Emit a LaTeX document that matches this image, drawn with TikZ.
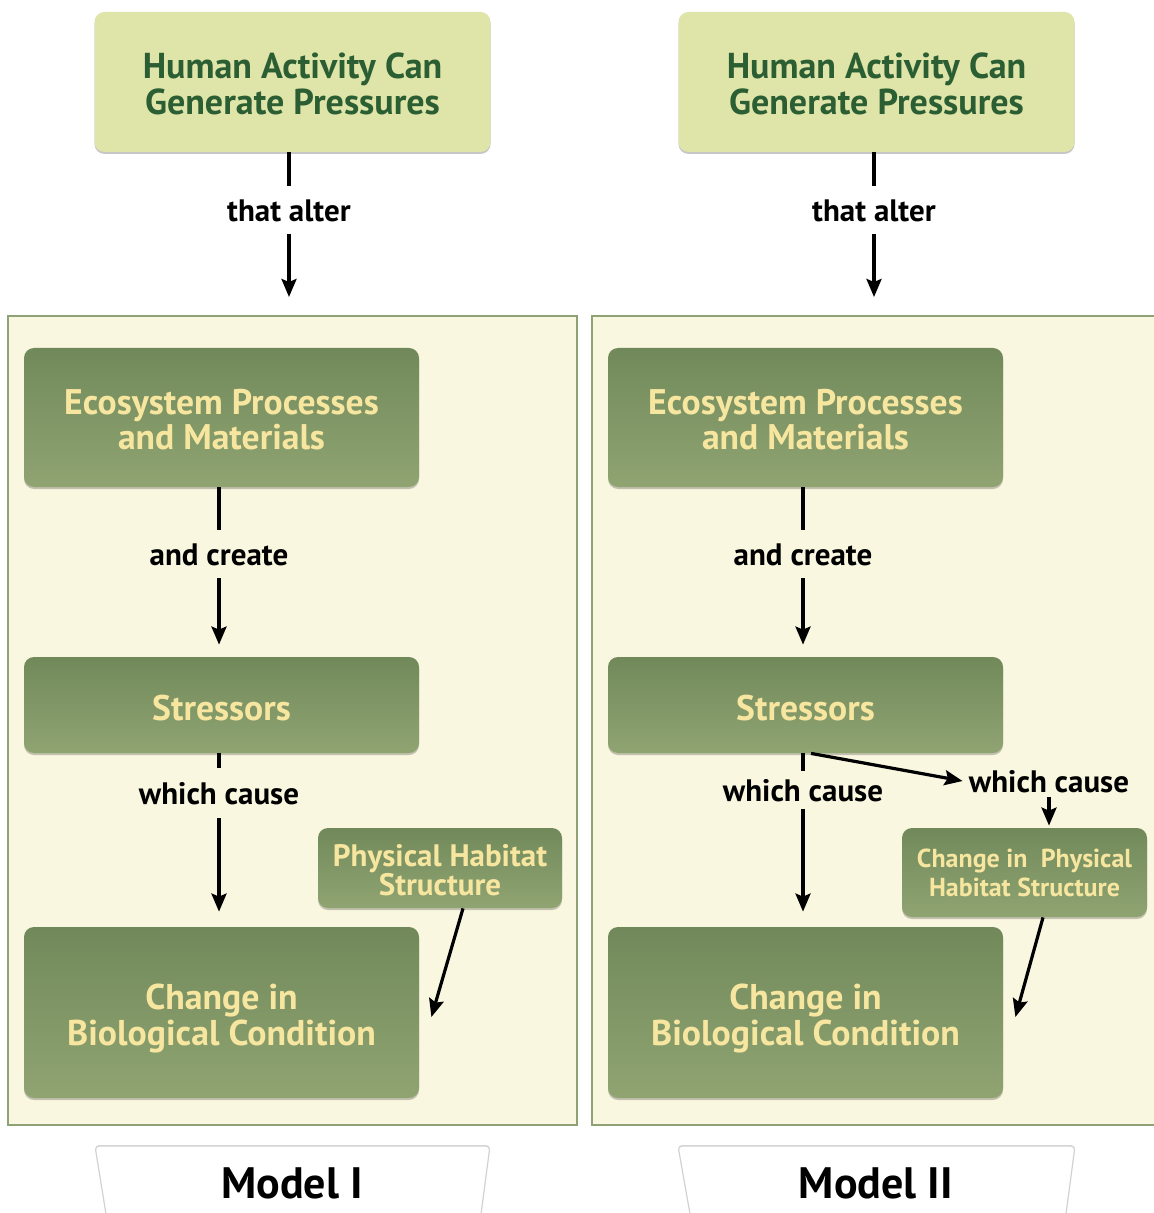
\documentclass[tikz,border=0pt]{standalone}
\usepackage{fontspec}
\setmainfont{PT Sans}
\usetikzlibrary{arrows.meta,shadows}

\definecolor{pagebg}{HTML}{FFFFFF}
\definecolor{panelfill}{HTML}{F9F7E0}
\definecolor{panelline}{HTML}{8FA275}
\definecolor{topfill}{HTML}{DFE4A9}
\definecolor{toptext}{HTML}{2B5E33}
\definecolor{gtop}{HTML}{71895A}
\definecolor{gbot}{HTML}{90A472}
\definecolor{gtext}{HTML}{F7E6A0}
\definecolor{tabline}{HTML}{D2D2D2}

% invisible strut that lowers a box's text a little
\newcommand\padtop[1]{\rule{0pt}{#1}}

\tikzset{
  softshadow/.style={drop shadow={shadow xshift=0pt,shadow yshift=-1pt,opacity=0.22,fill=black}},
  topbox/.style={rectangle,rounded corners=5pt,fill=topfill,text=toptext,align=center,
    font=\fontsize{18}{18}\selectfont\bfseries,minimum width=198pt,minimum height=70pt,
    inner sep=0pt,softshadow},
  greenbox/.style={rectangle,rounded corners=5pt,top color=gtop,bottom color=gbot,
    text=gtext,align=center,inner sep=0pt,softshadow},
  bigbox/.style={greenbox,minimum width=197.5pt},
  panel/.style={rectangle,draw=panelline,line width=1pt,fill=panelfill,inner sep=0pt},
  lbl/.style={font=\fontsize{15.5}{17}\selectfont\bfseries,text height=11.5pt,text depth=0pt,
    minimum height=24pt,inner sep=0pt,anchor=center},
  link/.style={line width=1.6pt},
  arr/.style={line width=1.6pt,-{Stealth[length=9pt,width=7.5pt,inset=1.5pt]}},
  tab/.style={fill=white,draw=tabline,line width=0.6pt,rounded corners=2pt,
    drop shadow={shadow xshift=0pt,shadow yshift=0.5pt,opacity=0.15,fill=black}},
  tabtext/.style={font=\fontsize{22}{24}\selectfont\bfseries},
}

\begin{document}
\begin{tikzpicture}[x=0.5pt,y=-0.5pt]
\useasboundingbox[fill=pagebg] (0,0) rectangle (1153,1213);

% ---------- Model I ----------
\node[panel,minimum width=284.5pt,minimum height=404.5pt] (pA) at (292.5,720.5) {};
\node[topbox] (hA) at (292.5,82) {\padtop{15pt}Human Activity Can\\Generate Pressures};
\node[lbl] (tA) at (289,210) {that alter};
\coordinate (eA) at (289,297);
\draw[link] (tA.north |- hA.south) -- (tA.north);
\draw[arr] (tA.south) -- (eA);

\node[bigbox,minimum height=69.5pt,font=\fontsize{17.8}{17.5}\selectfont\bfseries] (ecoA) at (221.5,417.5)
  {\padtop{15pt}Ecosystem Processes\\and Materials};
\node[lbl] (cA) at (219,554) {and create};
\node[bigbox,minimum height=48pt,font=\fontsize{17.8}{18}\selectfont\bfseries] (sA) at (221.5,705) {\padtop{16pt}Stressors};
\draw[link] (cA.north |- ecoA.south) -- (cA.north);
\draw[arr,shorten >=6pt] (cA.south) -- (cA.south |- sA.north);

\node[lbl,minimum height=25pt] (wA) at (219,793) {which cause};
\node[bigbox,minimum height=85.5pt,font=\fontsize{17.9}{18}\selectfont\bfseries] (bA) at (221.5,1012.5)
  {\padtop{18.5pt}Change in\\Biological Condition};
\draw[link] (wA.north |- sA.south) -- (wA.north);
\draw[arr,shorten >=7.5pt] (wA.south) -- (wA.south |- bA.north);

\node[greenbox,minimum width=122pt,minimum height=40pt,font=\fontsize{15.5}{14.5}\selectfont\bfseries] (phA) at (440,868)
  {\padtop{13.2pt}Physical Habitat\\Structure};
\draw[arr] ([xshift=11.5pt]phA.south) -- ([xshift=6pt,yshift=-2.25pt]bA.east);

\draw[tab] (106,1214) -- (95,1146) -- (490,1146) -- (481,1214);
\node[tabtext] (mA) at (292,1183) {Model I};

% ---------- Model II ----------
\node[panel,minimum width=284.5pt,minimum height=404.5pt] (pB) at (876.5,720.5) {};
\node[topbox] (hB) at (876.5,82) {\padtop{15pt}Human Activity Can\\Generate Pressures};
\node[lbl] (tB) at (874,210) {that alter};
\coordinate (eB) at (874,297);
\draw[link] (tB.north |- hB.south) -- (tB.north);
\draw[arr] (tB.south) -- (eB);

\node[bigbox,minimum height=69.5pt,font=\fontsize{17.8}{17.5}\selectfont\bfseries] (ecoB) at (805.5,417.5)
  {\padtop{15pt}Ecosystem Processes\\and Materials};
\node[lbl] (cB) at (803,554) {and create};
\node[bigbox,minimum height=48pt,font=\fontsize{17.8}{18}\selectfont\bfseries] (sB) at (805.5,705) {\padtop{16pt}Stressors};
\draw[link] (cB.north |- ecoB.south) -- (cB.north);
\draw[arr,shorten >=6pt] (cB.south) -- (cB.south |- sB.north);

\node[lbl,minimum height=19pt] (wB) at (803,790) {which cause};
\node[bigbox,minimum height=85.5pt,font=\fontsize{17.9}{18}\selectfont\bfseries] (bB) at (805.5,1012.5)
  {\padtop{18.5pt}Change in\\Biological Condition};
\draw[link] (wB.north |- sB.south) -- (wB.north);
\draw[arr,shorten >=7.5pt] (wB.south) -- (wB.south |- bB.north);

\node[lbl,inner xsep=3pt,minimum height=16pt] (rB) at (1049,781) {which cause};
\node[greenbox,minimum width=122.5pt,minimum height=44.5pt,font=\fontsize{13}{14.5}\selectfont\bfseries] (phB) at (1024.5,872.5)
  {Change in\ \ Physical\\Habitat Structure};
\draw[arr] ([xshift=2.75pt]sB.south) -- (rB.west);
\draw[arr,shorten >=1pt] (rB.south) -- (rB.south |- phB.north);
\draw[arr] ([xshift=9.25pt]phB.south) -- ([xshift=6pt,yshift=-2.25pt]bB.east);

\draw[tab] (690,1214) -- (678,1146) -- (1075,1146) -- (1066,1214);
\node[tabtext] (mB) at (876,1183) {Model II};
\end{tikzpicture}
\end{document}
